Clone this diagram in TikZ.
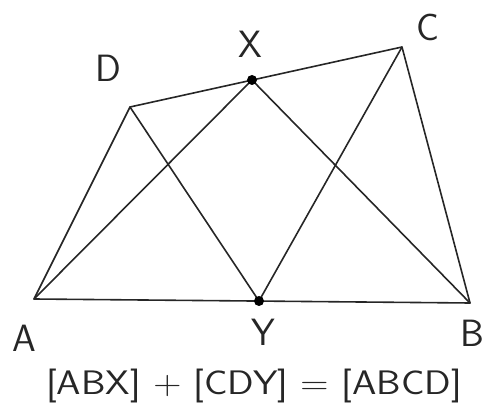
\documentclass[tikz,border=0pt]{standalone}
\begin{document}
\begin{tikzpicture}[x=1pt,y=1pt,
  edge/.style={line width=1.6pt, draw=black!85, line cap=round, line join=round},
  pt/.style={circle, fill=black, inner sep=0pt, minimum size=10pt},
  lbl/.style={font=\sffamily\fontsize{38}{42}\selectfont, text=black!85, inner sep=0pt},
  formula/.style={font=\sffamily\fontsize{34}{38}\selectfont, text=black!85, inner sep=0pt}]
\useasboundingbox (0,0) rectangle (485,402);
\coordinate (A) at (34,103);
\coordinate (B) at (470,99);
\coordinate (C) at (402,355);
\coordinate (D) at (130,295);
\coordinate (X) at (252,322);
\coordinate (Y) at (259,101);
\draw[edge] (A) -- (B) -- (C) -- (D) -- cycle;
\draw[edge] (A) -- (X) -- (B);
\draw[edge] (D) -- (Y) -- (C);
\node[pt] (Xd) at (X) {};
\node[pt] (Yd) at (Y) {};
\node[lbl] (lD) at (108,334) {D};
\node[lbl] (lX) at (250,358) {X};
\node[lbl] (lC) at (428,375) {C};
\node[lbl] (lA) at (24,64) {A};
\node[lbl] (lY) at (263,70) {Y};
\node[lbl] (lB) at (472,69) {B};
\node[formula, xscale=1.15] (f) at (254,16) {[ABX] + [CDY] = [ABCD]};
\end{tikzpicture}
\end{document}
